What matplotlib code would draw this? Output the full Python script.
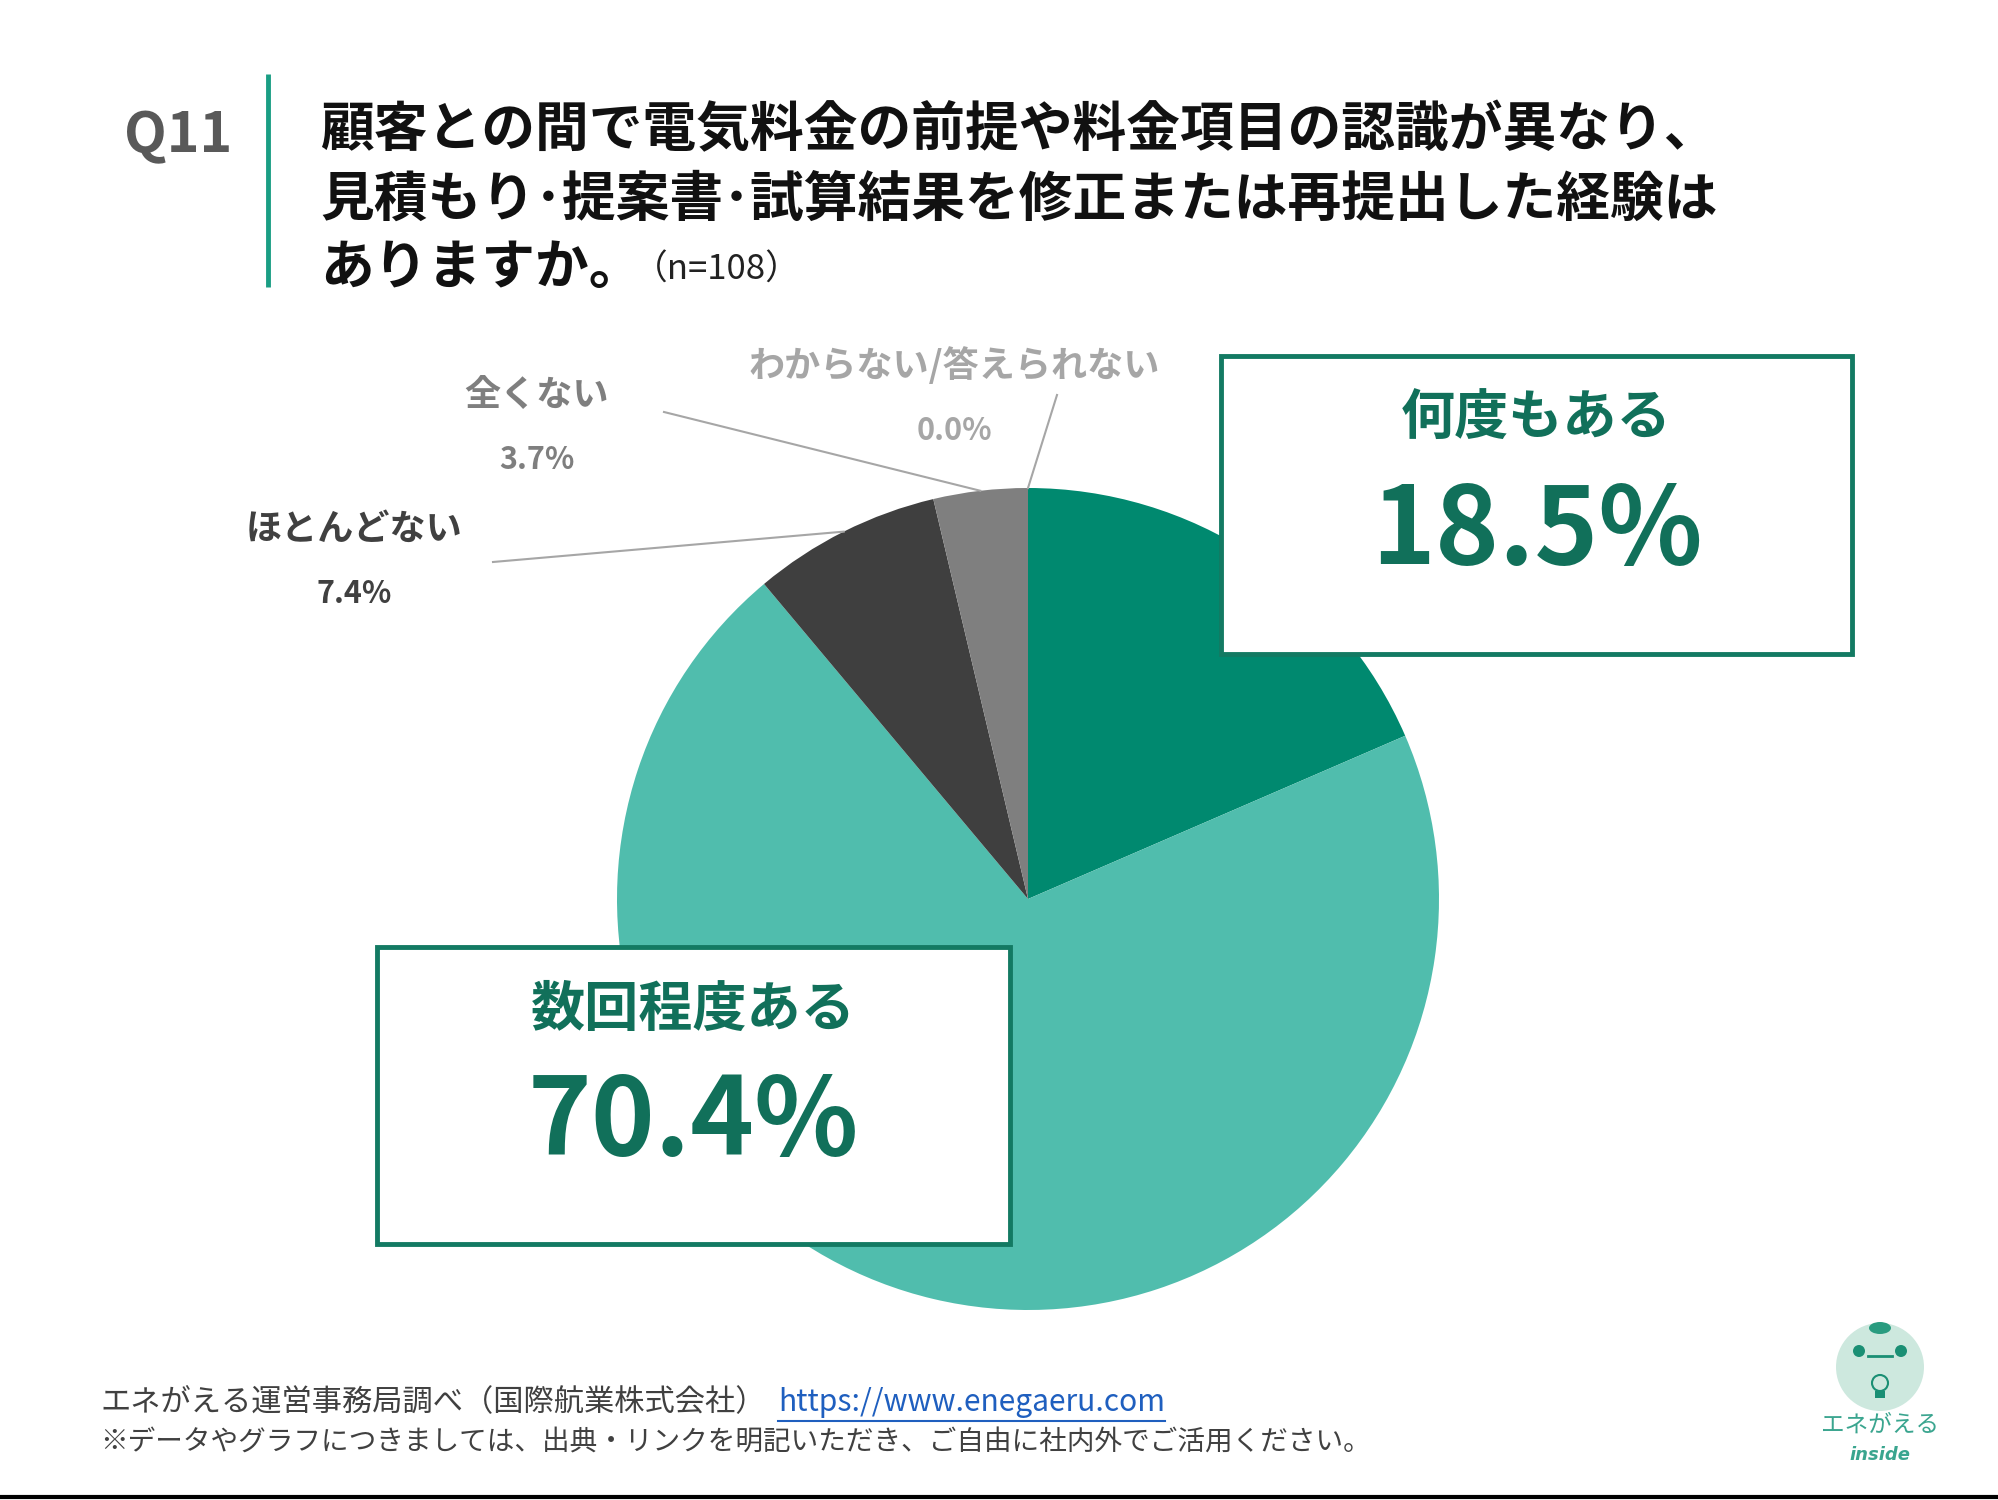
import matplotlib.pyplot as plt
import numpy as np
from matplotlib.patches import Rectangle, Circle, Ellipse

plt.rcParams['font.family'] = ['Noto Sans CJK JP', 'DejaVu Sans']

# Survey data
labels = ['何度もある', '数回程度ある', 'ほとんどない', '全くない', 'わからない/答えられない']
values = [18.5, 70.4, 7.4, 3.7, 0.0]
colors = ['#00896f', '#50bdad', '#3f3f3f', '#7f7f7f', '#bfbfbf']

title_lines = ['顧客との間で電気料金の前提や料金項目の認識が異なり、',
               '見積もり･提案書･試算結果を修正または再提出した経験は',
               'ありますか。']
n_text = '（n=108）'
source_text = 'エネがえる運営事務局調べ（国際航業株式会社）'
url_text = 'https://www.enegaeru.com'
note_text = '※データやグラフにつきましては、出典・リンクを明記いただき、ご自由に社内外でご活用ください。'

W, H = 1999, 1500
fig = plt.figure(figsize=(W / 100, H / 100), dpi=100)
fig.patch.set_facecolor('white')

# pie geometry (pixels)
CX, CY, R = 1028, 899, 411
ax_pie = fig.add_axes([(CX - R) / W, (H - CY - R) / H, 2 * R / W, 2 * R / H])
wedges, _ = ax_pie.pie(values, colors=colors, startangle=90, counterclock=False,
                       radius=1, wedgeprops=dict(linewidth=0))
ax_pie.set_xlim(-1, 1)
ax_pie.set_ylim(-1, 1)
ax_pie.set_aspect('auto')
ax_pie.axis('off')

# overlay in pixel coordinates
ax = fig.add_axes([0, 0, 1, 1])
ax.set_xlim(0, W)
ax.set_ylim(H, 0)
ax.axis('off')
ax.patch.set_alpha(0)

# header
ax.text(124, 136, 'Q11', fontsize=40, fontweight='bold', color='#595959', ha='left', va='center')
ax.plot([268, 268], [74, 287], color='#1a9e84', lw=3.5, solid_capstyle='butt')
for i, line in enumerate(title_lines):
    ax.text(320, 131 + i * 69, line, fontsize=38.7, fontweight='bold', color='#111111',
            ha='left', va='center')
ax.text(633, 270, n_text, fontsize=25, color='#222222', ha='left', va='center')

# leader-line labels for small slices
small = {
    2: dict(pos=(354, 529), anchor=(493, 562), color='#404040'),
    3: dict(pos=(537, 395), anchor=(664, 412), color='#7f7f7f'),
    4: dict(pos=(954, 366), anchor=(1057, 395), color='#a6a6a6'),
}
for idx, info in small.items():
    w = wedges[idx]
    mid = np.deg2rad((w.theta1 + w.theta2) / 2)
    px, py = CX + R * np.cos(mid), CY - R * np.sin(mid)
    ax.plot([info['anchor'][0], px], [info['anchor'][1], py], color='#a6a6a6', lw=1.5)
    ax.text(info['pos'][0], info['pos'][1], labels[idx], fontsize=26, fontweight='bold',
            color=info['color'], ha='center', va='center')
    ax.text(info['pos'][0], info['pos'][1] + 65, f'{values[idx]:.1f}%', fontsize=22,
            fontweight='bold', color=info['color'], ha='center', va='center')

# boxed labels for big slices
boxes = {
    0: dict(rect=(1221, 356, 631, 298)),
    1: dict(rect=(377, 947, 633, 297)),
}
for idx, info in boxes.items():
    x0, y0, bw, bh = info['rect']
    ax.add_patch(Rectangle((x0, y0), bw, bh, facecolor='white', edgecolor='#137a63', lw=3.5))
    cx = x0 + bw / 2
    ax.text(cx, y0 + 63, labels[idx], fontsize=39, fontweight='bold', color='#11705a',
            ha='center', va='center')
    ax.text(cx, y0 + 177, f'{values[idx]:.1f}%', fontsize=78, fontweight='bold',
            color='#11705a', ha='center', va='center')

# footer
ax.text(100, 1402, source_text, fontsize=21.8, color='#404040', ha='left', va='center')
t = ax.text(778, 1402, url_text, fontsize=21.6, color='#1f5fbf', ha='left', va='center')
fig.canvas.draw()
bb = t.get_window_extent(renderer=fig.canvas.get_renderer())
ax.plot([778, 778 + bb.width], [1421, 1421], color='#1f5fbf', lw=1.5)
ax.text(100, 1443, note_text, fontsize=19.9, color='#404040', ha='left', va='center')
ax.plot([0, W], [1497, 1497], color='black', lw=3)

# logo
ax.add_patch(Circle((1880, 1367), 44, facecolor='#cde8de', edgecolor='none'))
ax.add_patch(Ellipse((1880, 1328), 22, 12, facecolor='#2a9c80', edgecolor='none'))
ax.add_patch(Circle((1859, 1351), 6, facecolor='#1a8f74', edgecolor='none'))
ax.add_patch(Circle((1901, 1351), 6, facecolor='#1a8f74', edgecolor='none'))
ax.plot([1868, 1892], [1356, 1356], color='#1a8f74', lw=2)
ax.add_patch(Circle((1880, 1383), 8, facecolor='none', edgecolor='#1a8f74', lw=1.5))
ax.add_patch(Rectangle((1875, 1391), 10, 7, facecolor='#1a8f74', edgecolor='none'))
ax.text(1880, 1425, 'エネがえる', fontsize=17, color='#3aa58f', ha='center', va='center')
ax.text(1880, 1455, 'inside', fontsize=13, color='#3aa58f', ha='center', va='center',
        fontstyle='italic', fontweight='bold', family='DejaVu Sans')

fig.savefig('out.png', dpi=100)
